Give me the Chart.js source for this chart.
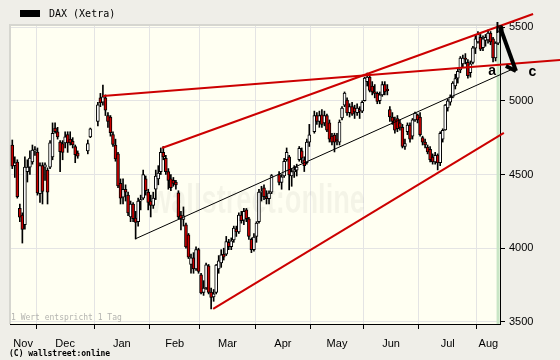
<!DOCTYPE html>
<html><head><meta charset="utf-8">
<script src="https://cdn.jsdelivr.net/npm/chart.js@4.4.1/dist/chart.umd.min.js"></script>
<style>html,body{margin:0;padding:0;background:#efeee8;}canvas{display:block;}</style>
</head><body>
<canvas id="c" width="560" height="360"></canvas>
<script>
// ---- categories / ticks ----
const monthLabels = ['Nov','Dec','Jan','Feb','Mar','Apr','May','Jun','Jul','Aug'];
const monthStart  = [0,10,33,55,75,97,119,140,162,185]; // first weekday index of each month
const priceTicks  = [3500,4000,4500,5000,5500];

// ---- daily OHLC (one value per weekday, null = no trading) ----
const open = [
 4700,4560,4585,4270,4225,4160,4520,4550,4585,4660,
 4652,4370,4560,4550,4530,4550,4620,4815,4790,4720,4710,4715,4770,4740,4725,4690,4645,null,null,null,4660,4755,null,
 null,4860,5020,4990,5020,4900,4890,4770,4700,4640,4440,4347,4400,4360,4212,4300,4205,4180,4320,4340,4470,4380,
 4320,4290,4400,4470,4520,4650,4610,4520,4470,4460,4449,4375,4225,4195,4158,4090,3890,3935,3860,3990,
 3820,3700,3730,3880,3703,3670,3700,3860,3900,3960,3960,4040,4010,4056,4130,4110,4225,4190,4260,4200,4060,3990,
 4080,4180,4380,4410,4350,4336,4380,null,null,4500,4447,4490,4600,4620,4490,4520,4530,4600,4660,4600,4580,4720,
 null,4790,4900,4860,4904,4850,4900,4850,4760,4768,4740,4720,4883,4971,5005,4920,4960,4950,4920,4940,4930,
 5000,5130,5160,5100,5060,5050,5000,5040,5110,5080,4940,4890,4870,4880,4850,4820,4690,4790,4836,4760,4870,4904,
 4890,4750,4720,4686,4670,4618,4585,4632,4580,4740,4802,4951,4990,5025,5100,5154,5209,5250,5290,5260,5190,5260,5357,
 5400,5430,5360,5410,5412,5460,5420,5290,5391
];
const high = [
 4734,4620,4600,4300,4240,4620,4600,4660,4700,4690,
 4680,4580,4580,4580,4545,4730,4850,4850,4820,4730,4730,4790,4790,4790,4750,4700,4660,null,null,null,4734,4815,null,
 null,4990,5050,5107,5040,4920,4900,4790,4740,4650,4470,4470,4430,4380,4320,4310,4250,4340,4360,4530,4490,4400,
 4360,4380,4530,4560,4680,4690,4630,4540,4500,4480,4460,4390,4250,4280,4170,4100,3960,3970,4010,4000,
 3830,3780,3900,3890,3730,3720,3890,3950,3990,4000,4080,4060,4070,4150,4150,4240,4250,4270,4270,4210,4070,4100,
 4180,4400,4420,4430,4390,4390,4500,null,null,4520,4500,4610,4680,4630,4540,4560,4570,4690,4680,4620,4740,4840,
 null,4930,4920,4930,4940,4930,4910,4870,4780,4780,4780,4870,4960,5060,5020,4980,4990,4970,4980,4960,5000,
 5160,5188,5170,5130,5110,5060,5060,5130,5130,5110,4960,4920,4890,4900,4870,4840,4740,4850,4850,4880,4924,4910,
 4920,4760,4740,4700,4690,4640,4650,4640,4790,4810,4975,5010,5040,5130,5180,5215,5300,5310,5320,5280,5270,5370,5446,
 5470,5450,5440,5450,5480,5470,5430,5400,5510
];
const low = [
 4540,4480,4340,4180,4035,4130,4449,4500,4570,4630,
 4360,4310,4300,4460,4300,4540,4600,4780,4740,4520,4600,4680,4650,4700,4680,4580,4610,null,null,null,4640,4750,null,
 null,4830,4960,4970,4900,4820,4760,4690,4590,4410,4300,4300,4320,4220,4180,4180,4063,4150,4260,4330,4360,4260,
 4212,4270,4330,4430,4500,4600,4500,4400,4390,4420,4400,4200,4124,4150,4000,3930,3830,3830,3850,3830,
 3690,3680,3720,3690,3588,3640,3690,3830,3870,3920,3950,3990,3990,4040,4080,4100,4170,4160,4180,4060,3970,3980,
 4040,4170,4320,4330,4300,4300,4370,null,null,4430,4400,4480,4590,4395,4420,4480,4490,4590,4580,4520,4570,4690,
 null,4780,4840,4820,4820,4830,4790,4720,4700,4653,4700,4700,4870,4960,4900,4890,4900,4880,4900,4880,4920,
 4998,5100,5060,5040,5020,4980,4980,5030,5040,5040,4860,4840,4780,4790,4800,4680,4670,4770,4720,4740,4860,4850,
 4760,4700,4680,4640,4585,4570,4570,4531,4560,4720,4800,4930,4970,5020,5080,5120,5190,5230,5250,5154,5160,5250,5320,
 5390,5340,5340,5370,5390,5380,5263,5270,5380
];
const close = [
 4557,4579,4350,4210,4127,4550,4550,4612,4666,4669,
 4375,4560,4385,4565,4380,4715,4780,4790,4755,4655,4650,4756,4715,4715,4700,4635,4625,null,null,null,4710,4810,null,
 null,4973,4985,5026,4937,4860,4783,4704,4605,4422,4340,4400,4380,4240,4300,4200,4175,4320,4330,4500,4390,4310,
 4290,4340,4490,4510,4650,4620,4520,4460,4410,4440,4429,4212,4195,4220,4009,3940,3935,3860,3990,3843,
 3697,3730,3887,3700,3667,3690,3886,3914,3956,3940,4045,4010,4050,4137,4110,4225,4187,4250,4200,4080,3990,4076,
 4170,4380,4384,4350,4336,4374,4492,null,null,4447,4484,4590,4650,4497,4520,4530,4550,4677,4610,4560,4720,4769,
 null,4900,4860,4900,4840,4900,4800,4740,4720,4720,4730,4856,4951,5052,4917,4960,4910,4925,4950,4930,4990,
 5154,5160,5070,5060,5050,4995,5040,5110,5060,5069,4890,4860,4800,4810,4820,4690,4710,4836,4740,4870,4917,4870,
 4770,4720,4700,4653,4600,4585,4630,4578,4780,4800,4971,5000,5025,5120,5150,5200,5290,5290,5280,5170,5250,5360,5420,
 5450,5350,5420,5430,5460,5400,5290,5391,5500
];

// ---- drawn analysis lines (x = weekday index, y = price) ----
const resistanceLine = [[36.0,5032],[217.6,5277]];
const upperChannel   = [[59.5,4680],[206.9,5589]];
const lowerChannel   = [[79.8,3588],[195.3,4782]];
const trendLine      = [[48.8,4063],[198.5,5213]];
const arrowShaft     = [[193.8,5500],[200.1,5202]];
const arrowHead      = [[196.1,5236],[200.1,5202],[201.7,5297]];
const waveLabels     = [['a',190.6,5202],['b',193.7,5485],['c',206.6,5195]];

const X_MIN = -0.91, X_MAX = 193.76;

// ---- build library data ----
const wickData = [], bodyData = [], bodyColors = [];
open.forEach((o,i)=>{
  if(o==null) return;
  wickData.push({x:i, y:[low[i], high[i]]});
  bodyData.push({x:i, y:[o, close[i]]});
  bodyColors.push(close[i] >= o ? '#ffffff' : '#cc0000');
});
const xTicks = [];
monthStart.forEach((s,k)=>{
  const from = k===0 ? X_MIN : s-0.5;
  const to = k===monthStart.length-1 ? X_MAX : monthStart[k+1]-0.5;
  if(k>0) xTicks.push({value:s-0.5, edge:true, lbl:''});
  xTicks.push({value:(from+to)/2, edge:false, lbl:monthLabels[k]});
});
xTicks.sort((a,b)=>a.value-b.value);
const pts = arr => arr.map(([x,y])=>({x,y}));
const lineDs = (arr,color,w,order)=>({type:'line', data:pts(arr), borderColor:color, borderWidth:w,
  pointRadius:0, tension:0, clip:false, order:order, borderCapStyle:'butt'});

const deco = {
  id:'deco',
  beforeDraw(chart){
    const {ctx, chartArea:a} = chart;
    ctx.save();
    ctx.fillStyle='#efeee8'; ctx.fillRect(0,0,chart.width,chart.height);
    ctx.fillStyle='#fffff2'; ctx.fillRect(a.left,a.top,a.right-a.left,a.bottom-a.top);
    ctx.restore();
  },
  beforeDatasetsDraw(chart){
    const {ctx, chartArea:a} = chart; const xs = chart.scales.x;
    ctx.save();
    ctx.fillStyle='rgba(0,0,0,0.045)';
    ctx.font='bold 40px "Liberation Sans"';
    ctx.textBaseline='alphabetic';
    ctx.fillText('wallstreet:online',150,213,215);
    ctx.fillStyle='#c9e6c6';
    const b0 = xs.getPixelForValue(192.4), b1 = xs.getPixelForValue(193.6);
    ctx.fillRect(b0, a.top, b1-b0, a.bottom-a.top);
    ctx.fillStyle='#d6d6d0';
    ctx.fillRect(a.left-1, a.top-1, a.right-a.left+1, 2);
    ctx.fillRect(a.left-1, a.top-1, 2, a.bottom-a.top+1);
    ctx.fillStyle='#b4b4b0';
    ctx.font='8px "DejaVu Sans Mono"';
    ctx.textBaseline='middle';
    ctx.fillText('1 Wert entspricht 1 Tag', 11, 318);
    ctx.restore();
  },
  afterDraw(chart){
    const {ctx} = chart; const xs = chart.scales.x, ys = chart.scales.y;
    ctx.save();
    ctx.fillStyle='#000';
    ctx.font='bold 14px "Liberation Sans"';
    ctx.textAlign='center'; ctx.textBaseline='middle';
    waveLabels.forEach(([t,x,y])=>ctx.fillText(t, xs.getPixelForValue(x), ys.getPixelForValue(y)));
    ctx.textAlign='left';
    ctx.fillRect(20,10,20,7);
    ctx.font='10px "DejaVu Sans Mono"';
    ctx.fillText('DAX (Xetra)', 49, 14);
    ctx.font='bold 8px "DejaVu Sans Mono"';
    ctx.fillText('(C) wallstreet:online', 9, 354);
    ctx.restore();
  }
};

new Chart(document.getElementById('c'), {
  data:{ datasets:[
    {type:'bar', label:'DAX (Xetra)', data:wickData, backgroundColor:'#000', borderWidth:0, barThickness:1, grouped:false, order:4},
    {type:'bar', label:'DAX body', data:bodyData, backgroundColor:bodyColors, borderColor:'#000', borderWidth:1, borderSkipped:false, barThickness:3, grouped:false, order:3},
    lineDs(trendLine,'#000',1,2),
    lineDs(resistanceLine,'#cc0000',2,1),
    lineDs(upperChannel,'#cc0000',2,1),
    lineDs(lowerChannel,'#cc0000',2,1),
    lineDs(arrowShaft,'#000',4,0),
    lineDs(arrowHead,'#000',4,0)
  ]},
  options:{
    responsive:false, animation:false, devicePixelRatio:1,
    layout:{padding:{left:10, top:25, right:0, bottom:0}},
    plugins:{legend:{display:false}, tooltip:{enabled:false}},
    scales:{
      x:{type:'linear', min:X_MIN, max:X_MAX, offset:false,
        afterBuildTicks(s){ s.ticks = xTicks.map(t=>({...t})); },
        afterFit(s){ s.height = 36; },
        grid:{offset:false, color:c=>c.tick&&c.tick.edge?'#e4e4e4':'rgba(0,0,0,0)', tickColor:c=>c.tick&&c.tick.edge?'#000':'rgba(0,0,0,0)', tickLength:5, lineWidth:1},
        border:{display:true, color:'#000', width:1},
        ticks:{autoSkip:false, maxRotation:0, padding:8, color:'#000', font:{family:'Liberation Sans', size:11},
          callback:(v,i,t)=>t[i].lbl}
      },
      y:{type:'linear', position:'right', min:3486, max:5514,
        afterBuildTicks(s){ s.ticks = priceTicks.map(v=>({value:v})); },
        afterFit(s){ s.width = 60; },
        grid:{color:'#e4e4e4', tickColor:'#000', tickLength:5},
        border:{display:true, color:'#000', width:1},
        ticks:{padding:4, color:'#000', font:{family:'Liberation Sans', size:11}, callback:v=>String(v)}
      }
    }
  },
  plugins:[deco]
});
</script>
</body></html>
